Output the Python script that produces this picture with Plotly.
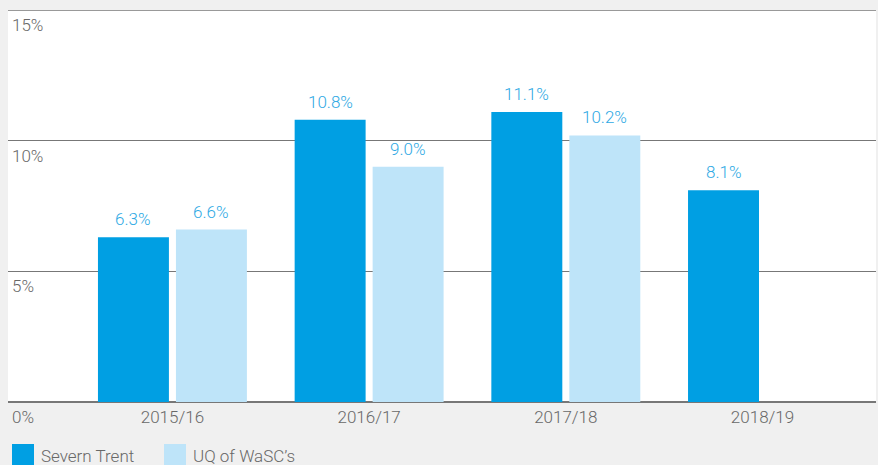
import plotly.graph_objects as go

# Return on regulated equity by year
years = ["2015/16", "2016/17", "2017/18", "2018/19"]
severn_trent = [6.3, 10.8, 11.1, 8.1]
uq_wascs = [6.6, 9.0, 10.2, None]
y_ticks = [0, 5, 10, 15]
y_tick_labels = ["0%", "5%", "10%", "15%"]
series_names = ["Severn Trent", "UQ of WaSC\u2019s"]

DARK = "#009fe3"
LIGHT = "#bee4f9"
LABEL_BLUE = "#2ea9e4"
GREY_TEXT = "#686868"
GRID = "#777777"
FONT = "Roboto"
W = 300  # light weight text
FS = 17

PLOT_W = 868   # plot area width in px
PLOT_H = 392   # plot area height in px


def px_x(p):
    """Pixel offset from the left of the plot area -> paper x."""
    return p / PLOT_W


def px_y(p):
    """Pixel offset below the plot bottom -> paper y."""
    return -p / PLOT_H


def font(color=GREY_TEXT):
    return dict(size=FS, color=color, family=FONT, weight=W)


fig = go.Figure()
for name, vals, col, shift in [(series_names[0], severn_trent, DARK, -39),
                               (series_names[1], uq_wascs, LIGHT, 39)]:
    fig.add_trace(go.Bar(
        x=years, y=vals, name=name, marker_color=col, marker_line_width=0,
        showlegend=False,
    ))
    # value labels above each bar
    for yr, v in zip(years, vals):
        if v is None:
            continue
        fig.add_annotation(
            x=yr, y=v, text=f"{v:.1f}%", showarrow=False,
            xanchor="center", yanchor="bottom", xshift=shift, yshift=6,
            font=font(LABEL_BLUE),
        )

fig.update_layout(
    width=878, height=465,
    margin=dict(l=8, r=2, t=10, b=63),
    paper_bgcolor="#f0f0f0", plot_bgcolor="white",
    barmode="group", bargap=0.207, bargroupgap=0.09,
    font=font(),
)
fig.update_xaxes(
    range=[-0.836, 3.577], showgrid=False, showline=False,
    ticks="", tickfont=font(), ticklabelstandoff=3,
)
fig.update_yaxes(
    range=[0, 15], tickvals=y_ticks, showticklabels=False,
    showgrid=True, gridcolor=GRID, gridwidth=1.3,
    zeroline=True, zerolinecolor=GRID, zerolinewidth=1.6,
)

# top rule at the 15% level, across the full plot width
fig.add_shape(
    type="line", xref="paper", yref="y", x0=0, x1=1,
    y0=y_ticks[-1], y1=y_ticks[-1],
    line=dict(color=GRID, width=1.6), layer="above",
)

# y tick labels sit just under each gridline at the left edge
for v, lab in zip(y_ticks, y_tick_labels):
    fig.add_annotation(
        x=0, xref="paper", y=v, yref="y", text=lab, showarrow=False,
        xanchor="left", yanchor="top", xshift=2, yshift=-3,
        font=font(),
    )

# legend drawn as squares with labels beneath the plot
legend_items = [(series_names[0], DARK, 4), (series_names[1], LIGHT, 156)]
for name, col, x0 in legend_items:
    fig.add_shape(
        type="rect", xref="paper", yref="paper",
        x0=px_x(x0), x1=px_x(x0 + 22),
        y0=px_y(64), y1=px_y(42),
        fillcolor=col, line_width=0, layer="above",
    )
    fig.add_annotation(
        x=px_x(x0 + 27), xref="paper", y=px_y(54), yref="paper",
        text=name, showarrow=False, xanchor="left", yanchor="middle",
        font=font(),
    )

fig.write_html("out.html")
